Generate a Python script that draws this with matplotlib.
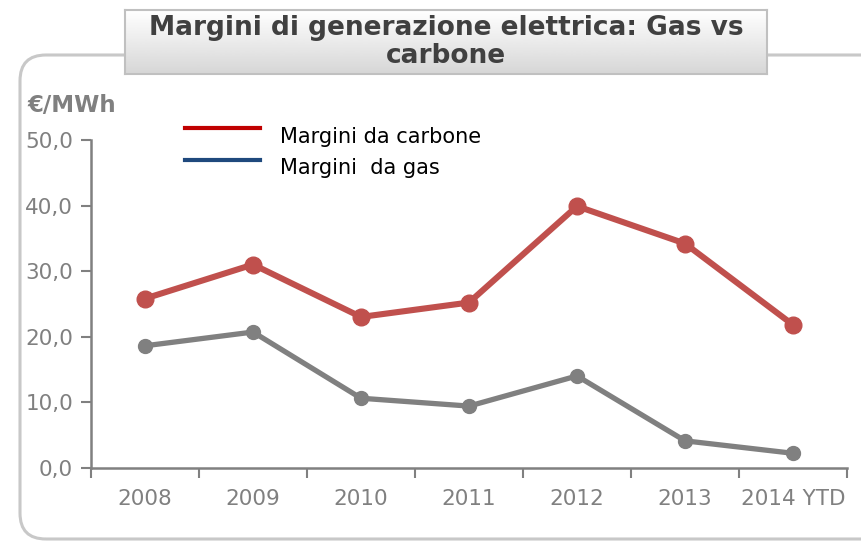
import numpy as np
from matplotlib import pyplot as plt
from matplotlib.patches import FancyBboxPatch
from matplotlib.lines import Line2D

years = ['2008', '2009', '2010', '2011', '2012', '2013', '2014 YTD']
carbone = [25.8, 31.0, 23.0, 25.2, 39.9, 34.2, 21.8]
gas = [18.6, 20.7, 10.6, 9.4, 14.0, 4.1, 2.2]
y_ticks = [0, 10, 20, 30, 40, 50]

W, H = 862, 542
fig = plt.figure(figsize=(W / 100, H / 100), dpi=100)

# Rounded frame around the chart (goes off the right edge)
frame = FancyBboxPatch((20 / W, 3 / H), 900 / W, (H - 58) / H,
                       boxstyle="round,pad=0,rounding_size=0.03",
                       transform=fig.transFigure, facecolor='none',
                       edgecolor='#c8c8c8', linewidth=2.2, mutation_aspect=W / H,
                       zorder=0)
fig.patches.append(frame)

# Main plot
ax = fig.add_axes([91 / W, 1 - 467.7 / H, (847 - 91) / W, (467.7 - 140) / H])
x = np.arange(len(years))
ax.plot(x, carbone, color='#c0504d', linewidth=4.4, marker='o', markersize=12,
        solid_capstyle='round')
ax.plot(x, gas, color='#808080', linewidth=3.8, marker='o', markersize=10,
        solid_capstyle='round')

ax.set_xlim(-0.5, len(years) - 0.5)
ax.set_ylim(0, 50)
ax.set_yticks(y_ticks)
ax.set_yticklabels([f'{v:.1f}'.replace('.', ',') for v in y_ticks])
ax.set_xticks(x)
ax.set_xticklabels(years)
ax.set_xticks(np.arange(-0.5, len(years)), minor=True)
ax.tick_params(axis='x', which='major', length=0, pad=15, labelsize=15.5, labelcolor='#808080')
ax.tick_params(axis='x', which='minor', length=7, width=1.5, color='#808080', direction='out')
ax.tick_params(axis='y', length=7, width=1.5, color='#808080', labelsize=15.5,
               labelcolor='#808080', pad=6)
for s in ['top', 'right']:
    ax.spines[s].set_visible(False)
for s in ['left', 'bottom']:
    ax.spines[s].set_color('#808080')
    ax.spines[s].set_linewidth(1.8)
ax.patch.set_alpha(0)

# Unit label
fig.text(27 / W, 1 - 105 / H, '€/MWh', fontsize=16.5, fontweight='bold',
         color='#808080', va='center', ha='left')

# Legend (colours as in the original)
fig.add_artist(Line2D([185 / W, 260 / W], [1 - 128 / H, 1 - 128 / H],
                      color='#c00000', linewidth=3))
fig.add_artist(Line2D([185 / W, 260 / W], [1 - 160 / H, 1 - 160 / H],
                      color='#1f497d', linewidth=3))
fig.text(280 / W, 1 - 137 / H, 'Margini da carbone', fontsize=15, va='center')
fig.text(280 / W, 1 - 168 / H, 'Margini  da gas', fontsize=15, va='center')

# Title box with grey gradient, on top of the frame
tax = fig.add_axes([125 / W, 1 - 74 / H, (767 - 125) / W, (74 - 10) / H], zorder=5)
grad = np.linspace(1.0, 0.84, 100).reshape(-1, 1)
tax.imshow(grad, cmap='gray', vmin=0, vmax=1, aspect='auto', extent=[0, 1, 0, 1])
tax.set_xticks([])
tax.set_yticks([])
for s in tax.spines.values():
    s.set_color('#c0c0c0')
    s.set_linewidth(1.5)
tax.text(0.5, 0.5, 'Margini di generazione elettrica: Gas vs\ncarbone',
         ha='center', va='center', fontsize=19, fontweight='bold', color='#404040',
         linespacing=1.12, transform=tax.transAxes)

fig.savefig('out.png', dpi=100)
